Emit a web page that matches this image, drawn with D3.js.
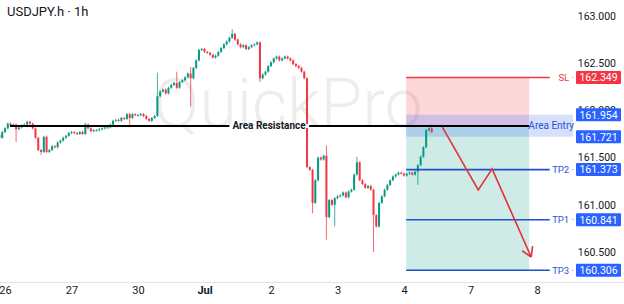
<!DOCTYPE html>
<html>
<head>
<meta charset="utf-8">
<script src="https://cdn.jsdelivr.net/npm/d3@7"></script>
<style>
  body { margin: 0; background: #fff; }
  text { font-family: Roboto, "Noto Sans", sans-serif; }
</style>
</head>
<body>
<div id="chart"></div>
<script>
// USDJPY.h 1h chart with short setup (entry / SL / TPs)

// ==========================================================
// Data

// hourly closes, first candle at hour -2 (hour 0 = "26")
var firstHour = -2;
var firstOpen = 161.74;
var closes = [
  161.71, 161.77, 161.81, 161.86, 161.84, 161.85, 161.80, 161.82, 161.84, 161.85,
  161.88, 161.86, 161.81, 161.71, 161.58, 161.56, 161.72, 161.56, 161.58, 161.62,
  161.61, 161.66, 161.68, 161.71, 161.73, 161.76, 161.77, 161.76, 161.75, 161.77,
  161.75, 161.85, 161.81, 161.78, 161.79, 161.79, 161.80, 161.81, 161.82, 161.82,
  161.85, 161.89, 161.90, 161.89, 161.92, 161.91, 161.96, 161.92, 161.96, 161.95,
  161.95, 161.96, 161.94, 161.91, 161.89, 161.92, 161.94, 162.15, 162.20, 162.22,
  162.18, 162.24, 162.27, 162.29, 162.24, 162.30, 162.32, 162.35, 162.39, 162.34,
  162.45, 162.53, 162.64, 162.65, 162.62, 162.61, 162.59, 162.56, 162.58, 162.62,
  162.66, 162.70, 162.73, 162.77, 162.81, 162.75, 162.70, 162.67, 162.69, 162.65,
  162.67, 162.69, 162.70, 162.72, 162.34, 162.38, 162.41, 162.47, 162.51, 162.55,
  162.57, 162.53, 162.55, 162.57, 162.55, 162.53, 162.49, 162.47, 162.45, 162.41,
  162.34, 161.40, 161.37, 161.02, 161.26, 161.50, 161.48, 161.52, 160.87, 161.05,
  161.00, 161.07, 161.09, 161.10, 161.13, 161.08, 161.14, 161.16, 161.32, 161.45,
  161.26, 161.22, 161.18, 161.20, 161.16, 160.89, 160.77, 161.02, 161.09, 161.16,
  161.21, 161.26, 161.30, 161.32, 161.34, 161.33, 161.31, 161.33, 161.34, 161.32,
  161.35, 161.42, 161.51, 161.61, 161.79, 161.81, 161.77
];

// candles with long wicks: [hour, high, low] (null = short wick)
var longWicks = [
  [4, null, 161.665], [13, null, 161.53], [29, 161.87, null], [45, null, 161.82],
  [55, 162.40, 161.93], [62, 162.41, null], [67, 162.46, 162.04], [82, 162.86, null],
  [92, null, 162.30], [111, null, 160.91], [116, 161.63, 160.63], [119, null, 160.77],
  [127, 161.51, null], [133, null, 160.50], [149, null, 161.21], [154, 161.85, null]
];

var dayLabels = ["26", "27", "30", "Jul", "2", "3", "4", "7", "8"];
var dayHours = [0, 24, 48, 72, 96, 120, 144, 168, 192];
var priceTicks = [160.5, 161.0, 161.5, 162.0, 162.5, 163.0];

// trade setup
var levelNames = ["SL", "TP2", "TP1", "TP3"];
var levelPrices = [162.349, 161.373, 160.841, 160.306];
var entryTop = 161.954;
var entryBottom = 161.721;
var resistance = 161.835;
var boxStartHour = 144.8;
var boxEndHour = 189.2;
var lineEndHour = 196.6;
var resistanceStartHour = 1.8;

// projected path
var pathHours = [157.8, 170.8, 175.8, 189.9];
var pathPrices = [161.825, 161.157, 161.38, 160.447];

// ==========================================================
// SVG
var svgWidth = 624;
var svgHeight = 304;

var svg = d3.select("#chart")
  .append("svg")
  .attr("width", svgWidth)
  .attr("height", svgHeight);

var xScale = d3.scaleLinear().domain([0, 24]).range([5, 71.5]);
var yScale = d3.scaleLinear().domain([160.5, 163]).range([252, 16]);

var upColor = "#089981";
var downColor = "#f23645";
var blue = "#2962ff";

// watermark
svg.append("text")
  .attr("x", 288)
  .attr("y", 127)
  .attr("text-anchor", "middle")
  .style("font-size", "68px")
  .style("font-weight", 300)
  .attr("fill", "#000")
  .attr("fill-opacity", 0.07)
  .text("QuickPro");

// title
svg.append("text")
  .attr("x", 7)
  .attr("y", 16)
  .style("font-size", "13px")
  .attr("fill", "#131722")
  .text("USDJPY.h · 1h");

// bottom axis line
svg.append("line")
  .attr("x1", 0).attr("x2", svgWidth)
  .attr("y1", 282.5).attr("y2", 282.5)
  .attr("stroke", "#e0e3eb");

// x axis
var xAxis = svg.append("g")
  .attr("transform", "translate(0, 286)")
  .call(d3.axisBottom(xScale)
    .tickValues(dayHours)
    .tickFormat(function(d, i) { return dayLabels[i]; })
    .tickSize(0)
    .tickPadding(0));
xAxis.select(".domain").remove();
xAxis.selectAll("text")
  .attr("dy", "0.71em")
  .style("font-size", "11px")
  .style("font-family", "Roboto, sans-serif")
  .attr("fill", "#131722")
  .style("font-weight", function(d, i) { return dayLabels[i] === "Jul" ? 700 : 400; });

// y axis (right side)
var yAxis = svg.append("g")
  .attr("transform", "translate(616, 0)")
  .call(d3.axisLeft(yScale)
    .tickValues(priceTicks)
    .tickFormat(d3.format(".3f"))
    .tickSize(0)
    .tickPadding(0));
yAxis.select(".domain").remove();
yAxis.selectAll("text")
  .style("font-size", "10.5px")
  .style("font-family", "Roboto, sans-serif")
  .attr("fill", "#131722");

// ==========================================================
// Setup boxes
var bx0 = xScale(boxStartHour);
var bx1 = xScale(boxEndHour);

svg.append("rect")
  .attr("x", bx0).attr("width", bx1 - bx0)
  .attr("y", yScale(levelPrices[0]))
  .attr("height", yScale(resistance) - yScale(levelPrices[0]))
  .attr("fill", downColor).attr("fill-opacity", 0.2);

svg.append("rect")
  .attr("x", bx0).attr("width", bx1 - bx0)
  .attr("y", yScale(resistance))
  .attr("height", yScale(levelPrices[3]) - yScale(resistance))
  .attr("fill", upColor).attr("fill-opacity", 0.2);

// area entry band
svg.append("rect")
  .attr("x", bx0).attr("width", bx1 - bx0)
  .attr("y", yScale(entryTop))
  .attr("height", yScale(entryBottom) - yScale(entryTop))
  .attr("fill", blue).attr("fill-opacity", 0.2);

svg.append("rect")
  .attr("x", bx1).attr("width", 573 - bx1)
  .attr("y", yScale(entryTop))
  .attr("height", yScale(entryBottom) - yScale(entryTop))
  .attr("fill", "#d6e0fb");

svg.append("text")
  .attr("x", bx1 + 22)
  .attr("y", yScale((entryTop + entryBottom) / 2) + 3.5)
  .attr("text-anchor", "middle")
  .style("font-size", "10px")
  .attr("fill", "#2453d9")
  .text("Area Entry");

// ==========================================================
// Candles
var candles = closes.map(function(c, i) {
  var o = i === 0 ? firstOpen : closes[i - 1];
  return { hour: firstHour + i, open: o, close: c,
           high: Math.max(o, c) + 0.012, low: Math.min(o, c) - 0.012 };
});
longWicks.forEach(function(w) {
  var d = candles[w[0] - firstHour];
  if (w[1] !== null) d.high = w[1];
  if (w[2] !== null) d.low = w[2];
});

var candleGroup = svg.append("g");

candleGroup.selectAll("line")
  .data(candles)
  .enter()
  .append("line")
  .attr("x1", d => xScale(d.hour))
  .attr("x2", d => xScale(d.hour))
  .attr("y1", d => yScale(d.high))
  .attr("y2", d => yScale(d.low))
  .attr("stroke", d => d.close >= d.open ? upColor : downColor)
  .attr("stroke-opacity", 0.75)
  .attr("stroke-width", 1);

candleGroup.selectAll("rect")
  .data(candles)
  .enter()
  .append("rect")
  .attr("x", d => xScale(d.hour) - 1)
  .attr("width", 2)
  .attr("y", d => yScale(Math.max(d.open, d.close)))
  .attr("height", d => Math.max(1, Math.abs(yScale(d.open) - yScale(d.close))))
  .attr("fill", d => d.close >= d.open ? upColor : downColor);

// ==========================================================
// Level lines and tags
var levelColors = [downColor, "#1f4fd1", "#1f4fd1", "#1f4fd1"];
var lineEndX = xScale(lineEndHour);

levelPrices.forEach(function(p, i) {
  var y = yScale(p);
  svg.append("line")
    .attr("x1", bx0).attr("x2", lineEndX)
    .attr("y1", y).attr("y2", y)
    .attr("stroke", levelColors[i])
    .attr("stroke-width", 1.6);

  svg.append("text")
    .attr("x", 574)
    .attr("y", y + 3.5)
    .attr("text-anchor", "end")
    .style("font-size", "9.5px")
    .attr("fill", i === 0 ? downColor : "#2453d9")
    .text(levelNames[i] + " ·");
});

var tagPrices = levelPrices.concat([entryTop, entryBottom]);
var tagColors = [downColor, blue, blue, blue, blue, blue];

tagPrices.forEach(function(p, i) {
  var y = yScale(p);
  svg.append("rect")
    .attr("x", 576).attr("y", y - 6.5)
    .attr("width", 45).attr("height", 13)
    .attr("rx", 1)
    .attr("fill", tagColors[i]);
  svg.append("text")
    .attr("x", 598.5)
    .attr("y", y + 3.8)
    .attr("text-anchor", "middle")
    .style("font-size", "10.5px")
    .attr("fill", "#fff")
    .text(d3.format(".3f")(p));
});

// ==========================================================
// Area resistance line
var ry = yScale(resistance);
svg.append("line")
  .attr("x1", xScale(resistanceStartHour)).attr("x2", bx1)
  .attr("y1", ry).attr("y2", ry)
  .attr("stroke", "#000")
  .attr("stroke-width", 1.8);

var labelBg = svg.append("rect").attr("fill", "#fff");

var resLabel = svg.append("text")
  .attr("x", 269)
  .attr("y", ry + 3.5)
  .attr("text-anchor", "middle")
  .style("font-size", "10px")
  .style("font-weight", 700)
  .attr("fill", "#131722")
  .text("Area Resistance");

var bb = resLabel.node().getBBox();
labelBg
  .attr("x", bb.x - 3).attr("y", ry - 2)
  .attr("width", bb.width + 6).attr("height", 4);

// ==========================================================
// Projected move
var pathPoints = pathHours.map(function(h, i) { return [xScale(h), yScale(pathPrices[i])]; });

svg.append("path")
  .attr("d", d3.line()(pathPoints))
  .attr("fill", "none")
  .attr("stroke", "#e0323f")
  .attr("stroke-width", 1.6);

var tip = pathPoints[pathPoints.length - 1];
var prev = pathPoints[pathPoints.length - 2];
var ang = Math.atan2(tip[1] - prev[1], tip[0] - prev[0]);
[-0.55, 0.55].forEach(function(a) {
  svg.append("line")
    .attr("x1", tip[0]).attr("y1", tip[1])
    .attr("x2", tip[0] - 11 * Math.cos(ang + a))
    .attr("y2", tip[1] - 11 * Math.sin(ang + a))
    .attr("stroke", "#e0323f")
    .attr("stroke-width", 1.6);
});
</script>
</body>
</html>
